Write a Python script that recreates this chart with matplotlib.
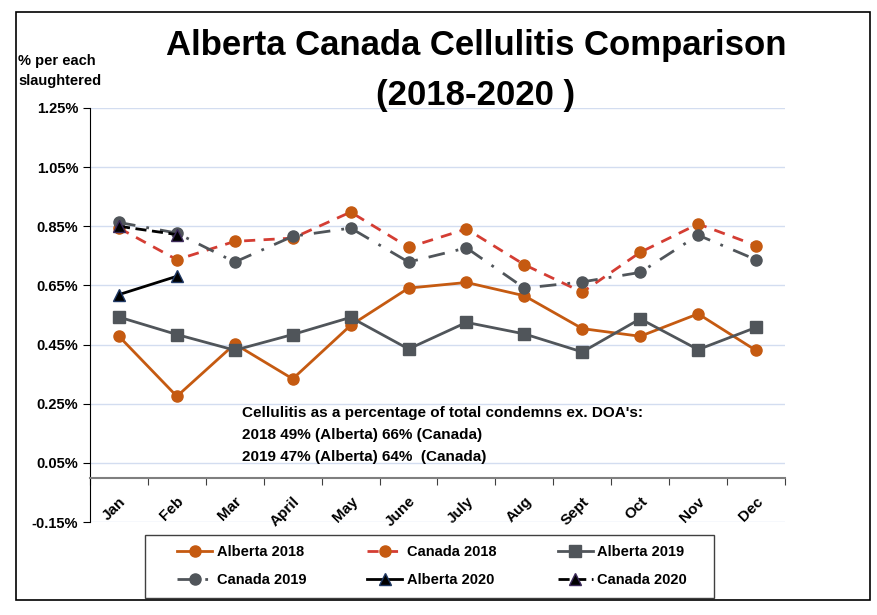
import matplotlib
matplotlib.use("Agg")
import matplotlib.pyplot as plt
from matplotlib.patches import Rectangle
import numpy as np

plt.rcParams['font.family'] = ['Liberation Sans', 'DejaVu Sans']
plt.rcParams['font.weight'] = 'bold'

### data (values in %)

months = ['Jan', 'Feb', 'Mar', 'April', 'May', 'June', 'July', 'Aug', 'Sept', 'Oct', 'Nov', 'Dec']
alberta2018 = [0.478, 0.275, 0.452, 0.334, 0.515, 0.641, 0.660, 0.615, 0.504, 0.478, 0.554, 0.430]
canada2018 = [0.844, 0.737, 0.799, 0.810, 0.898, 0.779, 0.841, 0.720, 0.627, 0.762, 0.858, 0.785]
alberta2019 = [0.543, 0.484, 0.431, 0.484, 0.542, 0.435, 0.525, 0.486, 0.425, 0.537, 0.433, 0.508]
canada2019 = [0.863, 0.827, 0.729, 0.816, 0.844, 0.729, 0.777, 0.641, 0.662, 0.694, 0.820, 0.737]
alberta2020 = [0.619, 0.681]
canada2020 = [0.850, 0.822]
yticks = [-0.15, 0.05, 0.25, 0.45, 0.65, 0.85, 1.05, 1.25]
note = ["Cellulitis as a percentage of total condemns ex. DOA's:",
        "2018 49% (Alberta) 66% (Canada)",
        "2019 47% (Alberta) 64%  (Canada)"]

orange = '#c55a11'
red = '#d43d33'
grey = '#50555a'

fig = plt.figure(figsize=(8.77, 6.15), dpi=100)
ax = fig.add_axes([90 / 877, 1 - 522 / 615, 695 / 877, 414 / 615])

x = np.arange(len(months))
l1, = ax.plot(x, alberta2018, color=orange, lw=2, marker='o', ms=8, label='Alberta 2018', zorder=3)
l2, = ax.plot(x, canada2018, color=red, lw=2, ls=(0, (4, 3)), marker='o', ms=8,
              mfc=orange, mec=orange, label='Canada 2018', zorder=3)
l3, = ax.plot(x, alberta2019, color=grey, lw=2, marker='s', ms=8, label='Alberta 2019', zorder=3)
l4, = ax.plot(x, canada2019, color=grey, lw=2, ls=(0, (6, 4, 1, 4)), marker='o', ms=8,
              label='Canada 2019', zorder=3)
l5, = ax.plot(x[:2], alberta2020, color='black', lw=2, marker='^', ms=8,
              mec='#1f3864', label='Alberta 2020', zorder=4)
l6, = ax.plot(x[:2], canada2020, color='black', lw=2, ls=(0, (4, 2)), marker='^', ms=8,
              mec='#3c2a5a', label='Canada 2020', zorder=4)

ax.set_xlim(-0.5, len(months) - 0.5)
ax.set_ylim(-0.15, 1.25)
ax.set_yticks(yticks)
ax.set_yticklabels(['{:.2f}%'.format(v) for v in yticks], fontsize=10.5, fontweight='bold')
ax.yaxis.grid(True, color='#d3ddf0', lw=1)
ax.set_axisbelow(True)

# category axis sits at 0, ticks between categories
ax.spines['bottom'].set_position(('data', 0))
ax.spines['bottom'].set_color('#7f7f7f')
ax.spines['bottom'].set_linewidth(1.5)
ax.spines['top'].set_visible(False)
ax.spines['right'].set_visible(False)
ax.spines['left'].set_color('black')
ax.set_xticks(np.arange(len(months) + 1) - 0.5)
ax.set_xticklabels([])
ax.tick_params(axis='x', which='major', direction='out', length=5, color='#404040')
ax.set_xticks(x, minor=True)
ax.set_xticklabels(months, minor=True, rotation=45, ha='right', va='top',
                   rotation_mode='anchor', fontsize=11, fontweight='bold')
ax.tick_params(axis='x', which='minor', length=0, pad=12)
ax.tick_params(axis='y', direction='out', length=5)

for i, line in enumerate(note):
    fig.text(242 / 877, 1 - (413 + 22 * i) / 615, line, fontsize=11, fontweight='bold',
             va='center', ha='left')

fig.text(476 / 877, 1 - 45 / 615, 'Alberta Canada Cellulitis Comparison',
         fontsize=25, fontweight='bold', ha='center', va='center')
fig.text(476 / 877, 1 - 95 / 615, '(2018-2020 )',
         fontsize=25, fontweight='bold', ha='center', va='center')
fig.text(18 / 877, 1 - 71 / 615, '% per each\nslaughtered', fontsize=10.5,
         fontweight='bold', ha='left', va='center', linespacing=1.6)

# legend filled row by row like the original, box drawn separately (wider padding)
order = [l1, l4, l2, l5, l3, l6]
leg = fig.legend(order, [h.get_label() for h in order], loc='center',
                 bbox_to_anchor=(432 / 877, 1 - 566 / 615), ncol=3,
                 fontsize=10.5, frameon=False,
                 handlelength=2.4, handletextpad=0.3, columnspacing=4.2,
                 borderpad=0.6, labelspacing=1.0, borderaxespad=0)
for t in leg.get_texts():
    t.set_fontweight('bold')
fig.patches.append(Rectangle((145 / 877, 1 - 598 / 615), 569 / 877, 63 / 615,
                             transform=fig.transFigure, fill=False, ec='#404040', lw=1))

fig.patches.append(Rectangle((16 / 877, 1 - 600 / 615), 854 / 877, 588 / 615,
                             transform=fig.transFigure, fill=False, ec='black', lw=1.2))

fig.savefig('out.png', dpi=100)
